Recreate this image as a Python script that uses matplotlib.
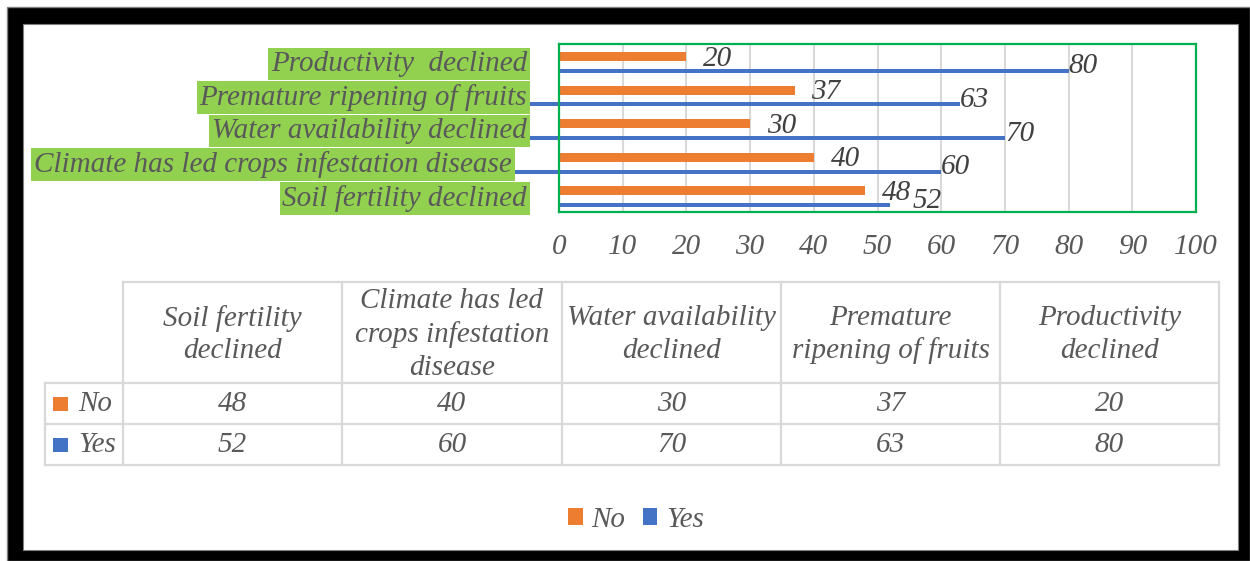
import matplotlib
matplotlib.use("Agg")
import matplotlib.pyplot as plt
from matplotlib.patches import Rectangle, Patch
from matplotlib.transforms import ScaledTranslation

# Data
categories = ["Soil fertility declined",
              "Climate has led crops infestation disease",
              "Water availability declined",
              "Premature ripening of fruits",
              "Productivity  declined"]
no_values = [48, 40, 30, 37, 20]
yes_values = [52, 60, 70, 63, 80]
table_headers = ["Soil fertility\ndeclined",
                 "Climate has led\ncrops infestation\ndisease",
                 "Water availability\ndeclined",
                 "Premature\nripening of fruits",
                 "Productivity\ndeclined"]
series = ["No", "Yes"]
x_ticks = list(range(0, 101, 10))

ORANGE = "#ED7D31"
BLUE = "#4472C4"
GREEN_BG = "#92D050"
FRAME = "#00B050"
TEXT = "#595959"
DARK = "#404040"
GRID = "#D9D9D9"
FS = 21

plt.rcParams["font.family"] = ["Liberation Serif", "DejaVu Serif"]
plt.rcParams["font.style"] = "italic"

W, H = 1250, 561
fig = plt.figure(figsize=(W / 100, H / 100), dpi=100)

# background frame, pixel coordinates (y down)
bg = fig.add_axes([0, 0, 1, 1], zorder=0)
bg.set_xlim(0, W)
bg.set_ylim(H, 0)
bg.axis("off")
bg.add_patch(Rectangle((7, 7), W - 7, H - 7, facecolor="black", edgecolor="#808080", lw=1))
bg.add_patch(Rectangle((23, 24), 1238 - 23, 550 - 24, facecolor="white", edgecolor="#808080", lw=0.8))

# bar chart
ax = fig.add_axes([559 / W, 1 - 212 / H, 637 / W, 168 / H], zorder=1)
ypos = list(range(len(categories)))
no_off, yes_off = 0.128, -0.30
ax.barh([i + no_off for i in ypos], no_values, height=0.27, color=ORANGE)
ax.barh([i + yes_off for i in ypos], yes_values, height=0.12, color=BLUE)
ax.set_xlim(0, 100)
ax.set_ylim(-0.5, len(categories) - 0.5)
ax.set_xticks(x_ticks)
ax.set_yticks(ypos)
ax.set_yticklabels(categories)
ax.grid(axis="x", color=GRID, lw=1.5)
ax.set_axisbelow(True)
for sp in ax.spines.values():
    sp.set_color(FRAME)
    sp.set_linewidth(1.6)
ax.tick_params(axis="both", length=0, labelsize=FS, labelcolor=TEXT)
ax.tick_params(axis="x", pad=16)
ax.tick_params(axis="y", pad=23)
for lbl in ax.get_yticklabels():
    lbl.set_bbox(dict(facecolor=GREEN_BG, edgecolor="none", pad=2))
# the long label sits a little further left in the original
long_lbl = ax.get_yticklabels()[1]
long_lbl.set_transform(long_lbl.get_transform() + ScaledTranslation(-0.15, 0, fig.dpi_scale_trans))

no_labels, yes_labels = [], []
for i, v in enumerate(no_values):
    no_labels.append(ax.annotate(str(v), (v, i + no_off), xytext=(12, -1.5), textcoords="offset points",
                                 ha="left", va="center", fontsize=FS, color=DARK))
for i, v in enumerate(yes_values):
    yes_labels.append(ax.annotate(str(v), (v, i + yes_off), xytext=(0, 3.2), textcoords="offset points",
                                  ha="left", va="center", fontsize=FS, color=DARK))

fig.canvas.draw()
renderer = fig.canvas.get_renderer()
# push a Yes label right when it collides with the No label
for a, b in zip(no_labels, yes_labels):
    ea = a.get_window_extent(renderer)
    eb = b.get_window_extent(renderer)
    if eb.x0 < ea.x1 and eb.y1 > ea.y0 and eb.y0 < ea.y1:
        shift = (ea.x1 + 2 - eb.x0) * 72 / 100
        b.xyann = (b.xyann[0] + shift, b.xyann[1])

# blue bars bleeding to the left into the label boxes
to_bg = bg.transData.inverted()
for name in ["Climate has led crops infestation disease", "Water availability declined",
             "Premature ripening of fruits"]:
    i = categories.index(name)
    lbl = ax.get_yticklabels()[i]
    box = lbl.get_bbox_patch().get_window_extent(renderer)
    y_disp = ax.transData.transform((0, i + yes_off))[1]
    x_axis = ax.transData.transform((0, 0))[0]
    p0 = to_bg.transform((box.x1 - 3, y_disp))
    p1 = to_bg.transform((x_axis, y_disp))
    bg.plot([p0[0], p1[0]], [p0[1], p1[1]], color=BLUE, lw=2.9, solid_capstyle="butt")

# data table
col_edges = [123, 342, 562, 781, 1000, 1219]
row_edges = [282, 383, 424, 465]
left_edge = 45
lk = dict(color=GRID, lw=1.6)
bg.plot([col_edges[0], col_edges[-1]], [row_edges[0]] * 2, **lk)
for r in row_edges[1:]:
    bg.plot([left_edge, col_edges[-1]], [r, r], **lk)
bg.plot([left_edge, left_edge], [row_edges[1], row_edges[-1]], **lk)
for c in col_edges:
    bg.plot([c, c], [row_edges[0], row_edges[-1]], **lk)

for j, head in enumerate(table_headers):
    cx = (col_edges[j] + col_edges[j + 1]) / 2
    bg.text(cx, (row_edges[0] + row_edges[1]) / 2 + 2, head, ha="center", va="center",
            fontsize=FS, color=TEXT, linespacing=1.32, multialignment="center")

for r, (name, vals, col) in enumerate(zip(series, [no_values, yes_values], [ORANGE, BLUE])):
    cy = (row_edges[r + 1] + row_edges[r + 2]) / 2
    bg.add_patch(Rectangle((53, cy - 7), 15, 14, facecolor=col, edgecolor="none"))
    bg.text(78, cy, name, ha="left", va="center", fontsize=FS, color=TEXT)
    for j, v in enumerate(vals):
        cx = (col_edges[j] + col_edges[j + 1]) / 2
        bg.text(cx, cy, str(v), ha="center", va="center", fontsize=FS, color=TEXT)

# legend
handles = [Patch(facecolor=ORANGE, label=series[0]), Patch(facecolor=BLUE, label=series[1])]
fig.legend(handles=handles, loc="center", bbox_to_anchor=(636 / W, 1 - 520 / H), ncol=2,
           frameon=False, fontsize=FS, labelcolor=TEXT, handlelength=0.5, handleheight=0.5,
           handletextpad=0.3, columnspacing=0.6, borderpad=0)

fig.savefig("out.png", dpi=100)
